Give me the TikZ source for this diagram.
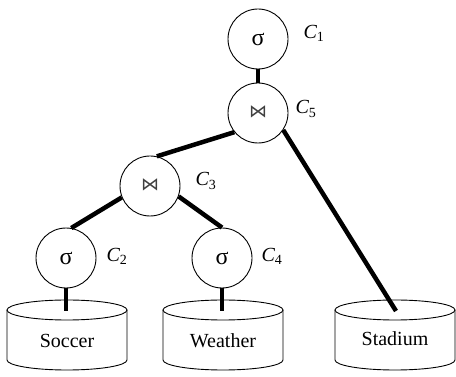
\documentclass[tikz,border=0pt]{standalone}
\usepackage{fontspec}
\setmainfont{Liberation Serif}
\newfontfamily\symfont{DejaVu Sans}
\begin{document}
\begin{tikzpicture}[x=1pt,y=-1pt,
  op/.style={circle,draw,line width=0.9pt,minimum size=60pt,inner sep=0pt,font=\fontsize{24}{24}\selectfont},
  lbl/.style={font=\fontsize{20}{20}\selectfont\itshape,inner sep=0pt},
  tbl/.style={font=\fontsize{20}{20}\selectfont,inner sep=0pt},
  edge/.style={line width=4.5pt},
  cyl/.style={line width=0.9pt}]
\useasboundingbox (0,0) rectangle (456,377);
% operator nodes
\node[op] (c1) at (258,39) {σ};
\node[op] (c5) at (258,113) {\raisebox{2pt}{\color{black!75}\symfont\fontsize{18}{18}\selectfont ⋈}};
\node[op] (c3) at (150,186) {\raisebox{2pt}{\color{black!75}\symfont\fontsize{18}{18}\selectfont ⋈}};
\node[op] (c2) at (66,258) {σ};
\node[op] (c4) at (222,258) {σ};
% labels
\node[lbl] (l1) at (314,33) {C\textsubscript{\upshape 1}};
\node[lbl] (l5) at (306,109) {C\textsubscript{\upshape 5}};
\node[lbl] (l3) at (206,181) {C\textsubscript{\upshape 3}};
\node[lbl] (l2) at (117,256) {C\textsubscript{\upshape 2}};
\node[lbl] (l4) at (272,256) {C\textsubscript{\upshape 4}};
% tables
\foreach \cx/\nm in {67/soccer,223/weather,395/stadium}{
  \draw[cyl] (\cx,310) ellipse [x radius=60pt, y radius=10pt];
  \draw[cyl] (\cx-60,310) -- (\cx-60,360) arc[start angle=180,end angle=360,x radius=60pt,y radius=10pt] -- (\cx+60,310);
}
\node[tbl] (soccer) at (67,341) {Soccer};
\node[tbl] (weather) at (223,341) {Weather};
\node[tbl] (stadium) at (395,339) {Stadium};
\coordinate (stop) at (66,311);
\coordinate (wtop) at (222,311);
\coordinate (sttop) at (396,311);
% connectors
\draw[edge] (c1.south) -- (c5.north);
\draw[edge] (c5.219) -- (c3.77);
\draw[edge] (c5.-34) -- (sttop);
\draw[edge] (c3.202) -- (c2.80);
\draw[edge] (c3.-20) -- (c4.north);
\draw[edge] (c2.south) -- (stop);
\draw[edge] (c4.south) -- (wtop);
\end{tikzpicture}
\end{document}
